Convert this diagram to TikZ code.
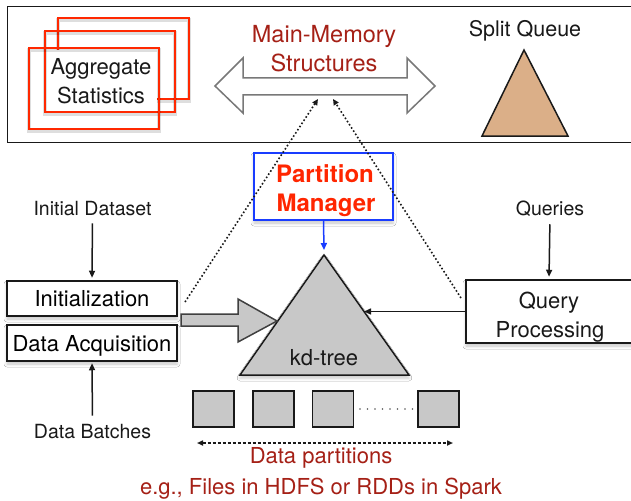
\documentclass[tikz,border=0pt]{standalone}
\usepackage{fontspec}
\setmainfont{TeX Gyre Heros}
\usetikzlibrary{arrows.meta,shadows.blur}

\definecolor{frameRed}{RGB}{255,40,0}
\definecolor{darkRed}{RGB}{165,32,22}
\definecolor{pmRed}{RGB}{255,38,0}
\definecolor{pmBlue}{RGB}{25,60,255}
\definecolor{boxGray}{RGB}{200,200,200}
\definecolor{sqTan}{RGB}{219,175,136}
\definecolor{arrowGray}{RGB}{120,120,120}
\definecolor{inkBlack}{RGB}{25,25,25}

\tikzset{
  softshadow/.style={blur shadow={shadow xshift=0pt, shadow yshift=-3pt,
      shadow blur radius=3pt, shadow opacity=22}},
  box/.style={draw=inkBlack, line width=1.5pt, fill=white, inner sep=0pt,
      softshadow, font=\fontsize{22}{26}\selectfont, text height=16pt, text depth=0pt},
  txt/.style={anchor=base, inner sep=0pt, text=inkBlack, font=\fontsize{22}{26}\selectfont},
  lbl/.style={txt, font=\fontsize{19.5}{24}\selectfont},
  memtxt/.style={txt, text=darkRed, font=\fontsize{23.5}{28}\selectfont},
  pmtxt/.style={txt, text=pmRed, font=\fontsize{24}{29}\selectfont\bfseries},
  redtxt/.style={txt, text=darkRed},
  arr/.style={line width=1.5pt, draw=inkBlack, -{Triangle[length=7pt,width=6pt]}},
  dotarr/.style={line width=1.6pt, draw=inkBlack, dash pattern=on 1.6pt off 2.2pt,
      -{Triangle[length=6pt,width=5.5pt]}},
  redframe/.style={draw=frameRed, line width=1.6pt},
  frameshade/.style={draw=black, line width=3.5pt, opacity=0.13},
  part/.style={draw=inkBlack, line width=1.5pt, fill=boxGray, inner sep=0pt,
      minimum width=41, minimum height=36},
}

\begin{document}
\begin{tikzpicture}[x=1pt,y=-1pt]
\useasboundingbox (0,0) rectangle (631,500);
\fill[white] (0,0) rectangle (631,500);

% ---------------- main-memory panel ----------------
\node[draw=inkBlack, line width=1pt, anchor=north west, inner sep=0pt,
      minimum width=628, minimum height=136] (mem) at (7,6) {};

% stacked aggregate-statistics sheets
\draw[frameshade] (58,20) rectangle (189,101);
\draw[redframe] (58,18) rectangle (189,99);
\node[fill=white, inner sep=0pt, minimum width=111, minimum height=61] (agg) at (101.5,80.5) {};
\draw[frameshade] (45,33) rectangle (175,114);
\draw[redframe] (45,31) rectangle (175,112);
\draw[frameshade] (29,50) rectangle (159,131);
\draw[redframe] (29,48) rectangle (159,129);
\node[txt] (agg-1) at (101,75) {Aggregate};
\node[txt] (agg-2) at (101,103) {Statistics};

% double arrow for the main-memory structures
\coordinate (dbl-l) at (215,86);
\coordinate (dbl-r) at (435,86);
\draw[draw=arrowGray, fill=white, line width=1.5pt, line join=miter]
  (dbl-l) -- (243,58) -- (243,78) -- (407,78) -- (407,58) -- (dbl-r)
  -- (407,113) -- (407,95) -- (243,95) -- (243,113) -- cycle;
\node[memtxt] (mm-1) at (324,43) {Main-Memory};
\node[memtxt] (mm-2) at (324,72) {Structures};

% split queue
\node[lbl, font=\fontsize{21.5}{26}\selectfont] (sq) at (525,37) {Split Queue};
\coordinate (sq-a) at (524,50);
\coordinate (sq-l) at (482,136);
\coordinate (sq-r) at (568,136);
\draw[fill=sqTan, draw=inkBlack, line width=1.5pt, line join=miter] (sq-l) -- (sq-a) -- (sq-r) -- cycle;

% ---------------- partition manager ----------------
\node[box, draw=pmBlue, minimum width=139, minimum height=67] (pm) at (323.5,186.5) {};
\node[pmtxt] (pm-1) at (325,182) {Partition};
\node[pmtxt] (pm-2) at (326,211) {Manager};

% ---------------- kd-tree ----------------
\coordinate (kd-a) at (324,255);
\coordinate (kd-l) at (240,375);
\coordinate (kd-r) at (409,375);
\draw[fill=boxGray, draw=inkBlack, line width=1.5pt, line join=miter, softshadow]
  (kd-l) -- (kd-a) -- (kd-r) -- cycle;
\node[txt] (kd) at (324,365) {kd-tree};
\coordinate (kd-top) at (324,250);
\coordinate (kd-side) at (364,311.5);
\coordinate (kd-in) at (277,321);

% ---------------- input side ----------------
\node[lbl] (ids) at (92.5,215) {Initial Dataset};
\node[box, minimum width=170, minimum height=35] (init) at (92,298.5) {Initialization};
\node[box, minimum width=170, minimum height=36] (acq) at (92,343) {Data Acquisition};
\node[lbl] (db) at (92.5,438) {Data Batches};

\draw[arr, shorten <=8pt, shorten >=2.5pt] (ids.south) -- (init.north);
\draw[arr, shorten <=8pt, shorten >=1.5pt] (db.north) -- (acq.south);

% wide gray arrow into the kd-tree
\draw[fill=boxGray, draw=black!75, line width=1.5pt, line join=miter]
  (181,314) -- (238,314) -- (238,299) -- (kd-in) -- (238,342) -- (238,326) -- (181,326) -- cycle;

% ---------------- query side ----------------
\node[lbl] (q) at (550,215) {Queries};
\node[box, minimum width=166, minimum height=63] (qp) at (549,311.5) {};
\node[txt] (qp-1) at (549,308) {Query};
\node[txt] (qp-2) at (550,337) {Processing};

\draw[arr, shorten <=8pt, shorten >=2.5pt] (q.south) -- (qp.north);
\draw[arr] (qp.west) -- (kd-side);
\draw[arr, draw=pmBlue, -{Triangle[length=7pt,width=6pt,fill=pmBlue]}] (pm.south) -- (kd-top);

% dotted links up to the main-memory structures
\coordinate (dl) at (185,302);
\coordinate (dr) at (461,298);
\coordinate (mm-l) at (318,99);
\coordinate (mm-r) at (333,99);
\draw[dotarr] (dl) -- (mm-l);
\draw[dotarr] (dr) -- (mm-r);

% ---------------- data partitions ----------------
\node[part] (p1) at (213.5,409) {};
\node[part] (p2) at (273.5,409) {};
\node[part] (p3) at (333,409) {};
\node[part] (p4) at (438.5,409) {};
\coordinate (dots-a) at (360,409);
\coordinate (dots-b) at (413,409);
\draw[line width=1.6pt, draw=black!65, line cap=round, dash pattern=on 0pt off 7.5pt] (dots-a) -- (dots-b);

\coordinate (dp-l) at (197,443);
\coordinate (dp-r) at (453,443);
\draw[line width=1.5pt, draw=inkBlack, dash pattern=on 3pt off 2pt,
      {Triangle[length=6pt,width=5pt]}-{Triangle[length=6pt,width=5pt]}] (dp-l) -- (dp-r);
\node[redtxt] (dp) at (321,463) {Data partitions};
\node[redtxt] (eg) at (321,494) {e.g., Files in HDFS or RDDs in Spark};
\end{tikzpicture}
\end{document}
